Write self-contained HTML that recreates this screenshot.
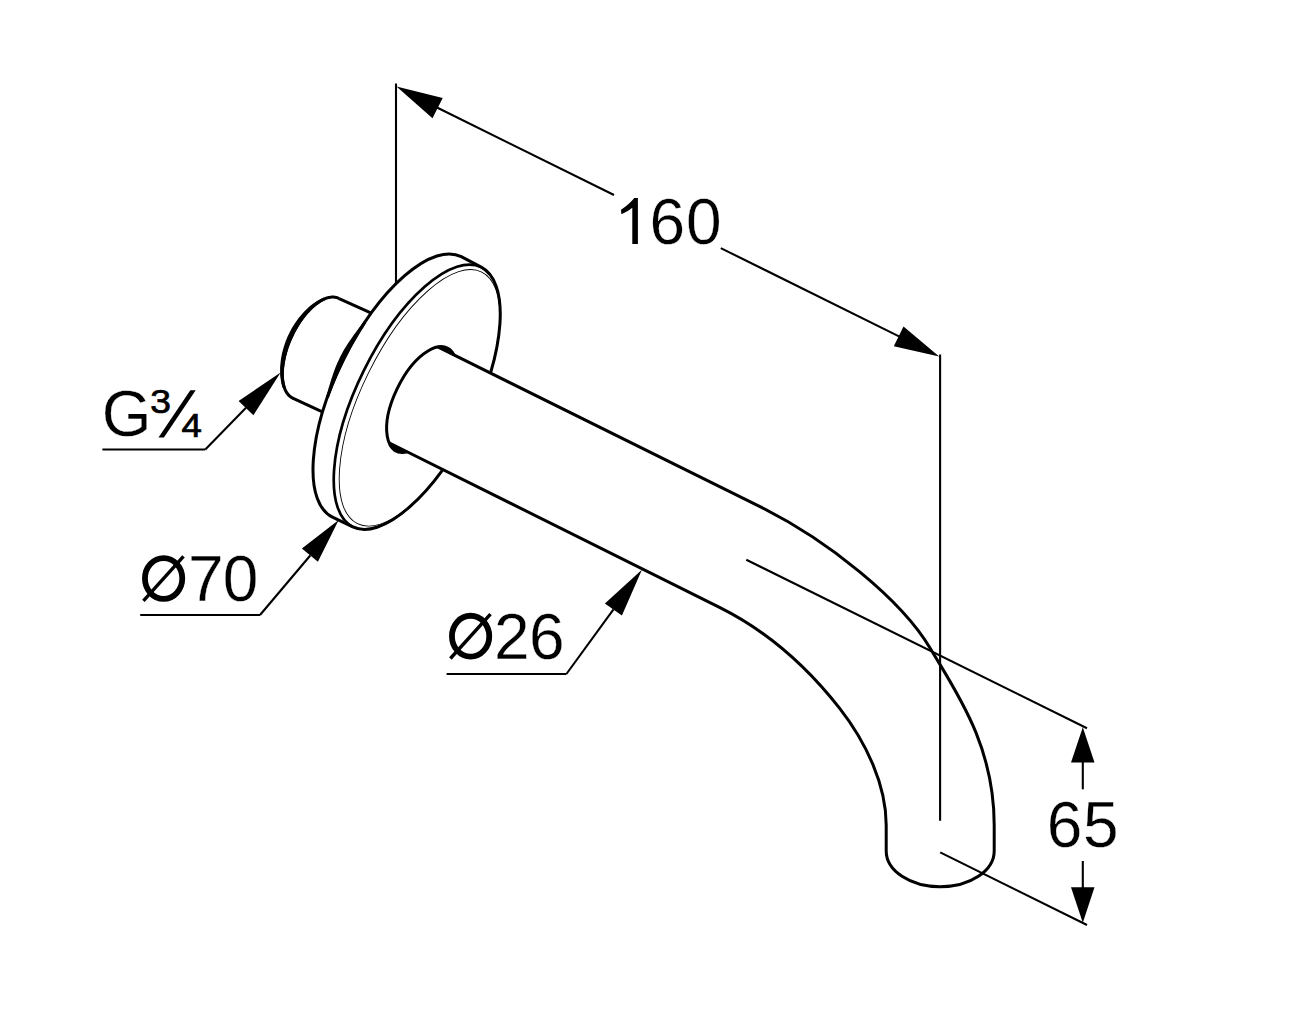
<!DOCTYPE html>
<html><head><meta charset="utf-8"><style>
html,body{margin:0;padding:0;background:#fff;width:1297px;height:1021px;overflow:hidden}
svg{display:block;font-family:"Liberation Sans",sans-serif}
</style></head><body>
<svg width="1297" height="1021" viewBox="0 0 1297 1021">
<path d="M339.1 298.5 L338.9 298.4 L338.8 298.4 L338.6 298.3 L338.5 298.2 L338.3 298.2 L338.2 298.1 L338.0 298.0 L337.8 298.0 L337.7 297.9 L337.5 297.9 L337.4 297.8 L337.2 297.7 L337.0 297.7 L336.9 297.6 L336.7 297.6 L336.5 297.6 L336.4 297.5 L336.2 297.5 L336.0 297.4 L335.9 297.4 L335.7 297.4 L335.5 297.3 L335.4 297.3 L335.2 297.3 L335.0 297.2 L334.8 297.2 L334.7 297.2 L334.5 297.2 L334.3 297.2 L334.1 297.1 L334.0 297.1 L333.8 297.1 L333.6 297.1 L333.4 297.1 L333.2 297.1 L333.1 297.1 L332.9 297.1 L332.7 297.1 L332.5 297.1 L332.3 297.1 L332.1 297.1 L332.0 297.1 L331.8 297.1 L331.6 297.1 L331.4 297.1 L331.2 297.2 L331.0 297.2 L330.8 297.2 L330.6 297.2 L330.5 297.2 L330.3 297.3 L330.1 297.3 L329.9 297.3 L329.7 297.4 L329.5 297.4 L329.3 297.4 L329.1 297.5 L328.9 297.5 L328.7 297.5 L328.5 297.6 L328.3 297.6 L328.1 297.7 L327.9 297.7 L327.7 297.8 L327.5 297.8 L327.3 297.9 L327.1 298.0 L326.9 298.0 L326.7 298.1 L326.5 298.1 L326.3 298.2 L326.1 298.3 L325.9 298.3 L325.7 298.4 L325.5 298.5 L325.3 298.6 L325.1 298.6 L324.9 298.7 L324.7 298.8 L324.5 298.9 L324.3 299.0 L324.1 299.1 L323.9 299.2 L323.7 299.2 L323.5 299.3 L323.3 299.4 L323.1 299.5 L322.9 299.6 L322.7 299.7 L322.5 299.8 L322.3 299.9 L322.1 300.0 L321.9 300.2 L321.6 300.3 L321.4 300.4 L321.2 300.5 L321.0 300.6 L320.8 300.7 L320.6 300.9 L320.4 301.0 L320.2 301.1 L320.0 301.2 L319.8 301.3 L319.6 301.5 L319.3 301.6 L319.1 301.7 L318.9 301.9 L318.7 302.0 L318.5 302.2 L318.3 302.3 L318.1 302.4 L317.9 302.6 L317.7 302.7 L317.5 302.9 L317.2 303.0 L317.0 303.2 L316.8 303.3 L316.6 303.5 L316.4 303.6 L316.2 303.8 L316.0 304.0 L315.8 304.1 L315.6 304.3 L315.3 304.4 L315.1 304.6 L314.9 304.8 L314.7 305.0 L314.5 305.1 L314.3 305.3 L314.1 305.5 L313.9 305.7 L313.7 305.8 L313.4 306.0 L313.2 306.2 L313.0 306.4 L312.8 306.6 L312.6 306.8 L312.4 306.9 L312.2 307.1 L312.0 307.3 L311.8 307.5 L311.6 307.7 L311.3 307.9 L311.1 308.1 L310.9 308.3 L310.7 308.5 L310.5 308.7 L310.3 308.9 L310.1 309.1 L309.9 309.3 L309.7 309.5 L309.5 309.8 L309.3 310.0 L309.1 310.2 L308.9 310.4 L308.6 310.6 L308.4 310.8 L308.2 311.1 L308.0 311.3 L307.8 311.5 L307.6 311.7 L307.4 311.9 L307.2 312.2 L307.0 312.4 L306.8 312.6 L306.6 312.9 L306.4 313.1 L306.2 313.3 L306.0 313.6 L305.8 313.8 L305.6 314.0 L305.4 314.3 L305.2 314.5 L305.0 314.8 L304.8 315.0 L304.6 315.3 L304.4 315.5 L304.2 315.8 L304.0 316.0 L303.8 316.3 L303.6 316.5 L303.4 316.8 L303.2 317.0 L303.0 317.3 L302.8 317.5 L302.6 317.8 L302.4 318.0 L302.2 318.3 L302.1 318.6 L301.9 318.8 L301.7 319.1 L301.5 319.4 L301.3 319.6 L301.1 319.9 L300.9 320.2 L300.7 320.4 L300.5 320.7 L300.3 321.0 L300.2 321.2 L300.0 321.5 L299.8 321.8 L299.6 322.1 L299.4 322.3 L299.2 322.6 L299.0 322.9 L298.9 323.2 L298.7 323.5 L298.5 323.7 L298.3 324.0 L298.1 324.3 L298.0 324.6 L297.8 324.9 L297.6 325.2 L297.4 325.5 L297.3 325.7 L297.1 326.0 L296.9 326.3 L296.7 326.6 L296.6 326.9 L296.4 327.2 L296.2 327.5 L296.0 327.8 L295.9 328.1 L295.7 328.4 L295.5 328.7 L295.4 329.0 L295.2 329.3 L295.0 329.6 L294.9 329.9 L294.7 330.2 L294.5 330.5 L294.4 330.8 L294.2 331.1 L294.1 331.4 L293.9 331.7 L293.7 332.0 L293.6 332.3 L293.4 332.6 L293.3 332.9 L293.1 333.2 L293.0 333.5 L292.8 333.8 L292.7 334.1 L292.5 334.4 L292.4 334.8 L292.2 335.1 L292.1 335.4 L291.9 335.7 L291.8 336.0 L291.6 336.3 L291.5 336.6 L291.3 336.9 L291.2 337.3 L291.0 337.6 L290.9 337.9 L290.8 338.2 L290.6 338.5 L290.5 338.8 L290.3 339.1 L290.2 339.5 L290.1 339.8 L289.9 340.1 L289.8 340.4 L289.7 340.7 L289.5 341.1 L289.4 341.4 L289.3 341.7 L289.1 342.0 L289.0 342.3 L288.9 342.6 L288.8 343.0 L288.6 343.3 L288.5 343.6 L288.4 343.9 L288.3 344.2 L288.2 344.6 L288.0 344.9 L287.9 345.2 L287.8 345.5 L287.7 345.9 L287.6 346.2 L287.5 346.5 L287.4 346.8 L287.2 347.1 L287.1 347.5 L287.0 347.8 L286.9 348.1 L286.8 348.4 L286.7 348.8 L286.6 349.1 L286.5 349.4 L286.4 349.7 L286.3 350.0 L286.2 350.4 L286.1 350.7 L286.0 351.0 L285.9 351.3 L285.8 351.6 L285.7 352.0 L285.6 352.3 L285.5 352.6 L285.4 352.9 L285.4 353.2 L285.3 353.6 L285.2 353.9 L285.1 354.2 L285.0 354.5 L284.9 354.8 L284.8 355.2 L284.8 355.5 L284.7 355.8 L284.6 356.1 L284.5 356.4 L284.5 356.8 L284.4 357.1 L284.3 357.4 L284.2 357.7 L284.2 358.0 L284.1 358.3 L284.0 358.7 L284.0 359.0 L283.9 359.3 L283.8 359.6 L283.8 359.9 L283.7 360.2 L283.7 360.5 L283.6 360.8 L283.5 361.2 L283.5 361.5 L283.4 361.8 L283.4 362.1 L283.3 362.4 L283.3 362.7 L283.2 363.0 L283.2 363.3 L283.1 363.6 L283.1 363.9 L283.0 364.2 L283.0 364.6 L283.0 364.9 L282.9 365.2 L282.9 365.5 L282.8 365.8 L282.8 366.1 L282.8 366.4 L282.7 366.7 L282.7 367.0 L282.7 367.3 L282.6 367.6 L282.6 367.9 L282.6 368.2 L282.5 368.5 L282.5 368.8 L282.5 369.1 L282.5 369.3 L282.5 369.6 L282.4 369.9 L282.4 370.2 L282.4 370.5 L282.4 370.8 L282.4 371.1 L282.4 371.4 L282.3 371.7 L282.3 372.0 L282.3 372.2 L282.3 372.5 L282.3 372.8 L282.3 373.1 L282.3 373.4 L282.3 373.6 L282.3 373.9 L282.3 374.2 L282.3 374.5 L282.3 374.8 L282.3 375.0 L282.3 375.3 L282.3 375.6 L282.3 375.8 L282.3 376.1 L282.3 376.4 L282.4 376.7 L282.4 376.9 L282.4 377.2 L282.4 377.5 L282.4 377.7 L282.4 378.0 L282.5 378.2 L282.5 378.5 L282.5 378.8 L282.5 379.0 L282.6 379.3 L282.6 379.5 L282.6 379.8 L282.6 380.0 L282.7 380.3 L282.7 380.5 L282.7 380.8 L282.8 381.0 L282.8 381.3 L282.8 381.5 L282.9 381.8 L282.9 382.0 L283.0 382.3 L283.0 382.5 L283.0 382.7 L283.1 383.0 L283.1 383.2 L283.2 383.5 L283.2 383.7 L283.3 383.9 L283.3 384.1 L283.4 384.4 L283.4 384.6 L283.5 384.8 L283.5 385.1 L283.6 385.3 L283.7 385.5 L283.7 385.7 L283.8 385.9 L283.8 386.2 L283.9 386.4 L284.0 386.6 L284.0 386.8 L284.1 387.0 L284.2 387.2 L284.3 387.4 L284.3 387.6 L284.4 387.8 L284.5 388.0 L284.5 388.2 L284.6 388.4 L284.7 388.6 L284.8 388.8 L284.9 389.0 L284.9 389.2 L285.0 389.4 L285.1 389.6 L285.2 389.8 L285.3 390.0 L285.4 390.2 L285.5 390.4 L285.5 390.5 L285.6 390.7 L285.7 390.9 L285.8 391.1 L285.9 391.3 L286.0 391.4 L286.1 391.6 L286.2 391.8 L286.3 391.9 L286.4 392.1 L286.5 392.3 L286.6 392.4 L286.7 392.6 L286.8 392.8 L286.9 392.9 L287.0 393.1 L287.1 393.2 L287.3 393.4 L287.4 393.5 L287.5 393.7 L287.6 393.8 L287.7 394.0 L287.8 394.1 L287.9 394.3 L288.1 394.4 L288.2 394.6 L288.3 394.7 L288.4 394.8 L288.5 395.0 L288.7 395.1 L288.8 395.2 L288.9 395.4 L289.0 395.5 L289.2 395.6 L289.3 395.7 L289.4 395.8 L289.5 396.0 L289.7 396.1 L289.8 396.2 L289.9 396.3 L290.1 396.4 L290.2 396.5 L290.4 396.6 L290.5 396.7 L290.6 396.8 L290.8 396.9 L290.9 397.0 L291.0 397.1 L291.2 397.2 L291.3 397.3 L291.5 397.4 L291.6 397.5 L291.8 397.6 L291.9 397.7 L292.1 397.8 L292.2 397.9 L292.4 397.9 L292.5 398.0 L292.7 398.1 L292.67 398.09 L378.00 437.70 L378.00 316.14 Z" fill="#fff" stroke="none"/>
<path d="M339.1 298.5 L338.9 298.4 L338.8 298.4 L338.6 298.3 L338.5 298.2 L338.3 298.2 L338.2 298.1 L338.0 298.0 L337.8 298.0 L337.7 297.9 L337.5 297.9 L337.4 297.8 L337.2 297.7 L337.0 297.7 L336.9 297.6 L336.7 297.6 L336.5 297.6 L336.4 297.5 L336.2 297.5 L336.0 297.4 L335.9 297.4 L335.7 297.4 L335.5 297.3 L335.4 297.3 L335.2 297.3 L335.0 297.2 L334.8 297.2 L334.7 297.2 L334.5 297.2 L334.3 297.2 L334.1 297.1 L334.0 297.1 L333.8 297.1 L333.6 297.1 L333.4 297.1 L333.2 297.1 L333.1 297.1 L332.9 297.1 L332.7 297.1 L332.5 297.1 L332.3 297.1 L332.1 297.1 L332.0 297.1 L331.8 297.1 L331.6 297.1 L331.4 297.1 L331.2 297.2 L331.0 297.2 L330.8 297.2 L330.6 297.2 L330.5 297.2 L330.3 297.3 L330.1 297.3 L329.9 297.3 L329.7 297.4 L329.5 297.4 L329.3 297.4 L329.1 297.5 L328.9 297.5 L328.7 297.5 L328.5 297.6 L328.3 297.6 L328.1 297.7 L327.9 297.7 L327.7 297.8 L327.5 297.8 L327.3 297.9 L327.1 298.0 L326.9 298.0 L326.7 298.1 L326.5 298.1 L326.3 298.2 L326.1 298.3 L325.9 298.3 L325.7 298.4 L325.5 298.5 L325.3 298.6 L325.1 298.6 L324.9 298.7 L324.7 298.8 L324.5 298.9 L324.3 299.0 L324.1 299.1 L323.9 299.2 L323.7 299.2 L323.5 299.3 L323.3 299.4 L323.1 299.5 L322.9 299.6 L322.7 299.7 L322.5 299.8 L322.3 299.9 L322.1 300.0 L321.9 300.2 L321.6 300.3 L321.4 300.4 L321.2 300.5 L321.0 300.6 L320.8 300.7 L320.6 300.9 L320.4 301.0 L320.2 301.1 L320.0 301.2 L319.8 301.3 L319.6 301.5 L319.3 301.6 L319.1 301.7 L318.9 301.9 L318.7 302.0 L318.5 302.2 L318.3 302.3 L318.1 302.4 L317.9 302.6 L317.7 302.7 L317.5 302.9 L317.2 303.0 L317.0 303.2 L316.8 303.3 L316.6 303.5 L316.4 303.6 L316.2 303.8 L316.0 304.0 L315.8 304.1 L315.6 304.3 L315.3 304.4 L315.1 304.6 L314.9 304.8 L314.7 305.0 L314.5 305.1 L314.3 305.3 L314.1 305.5 L313.9 305.7 L313.7 305.8 L313.4 306.0 L313.2 306.2 L313.0 306.4 L312.8 306.6 L312.6 306.8 L312.4 306.9 L312.2 307.1 L312.0 307.3 L311.8 307.5 L311.6 307.7 L311.3 307.9 L311.1 308.1 L310.9 308.3 L310.7 308.5 L310.5 308.7 L310.3 308.9 L310.1 309.1 L309.9 309.3 L309.7 309.5 L309.5 309.8 L309.3 310.0 L309.1 310.2 L308.9 310.4 L308.6 310.6 L308.4 310.8 L308.2 311.1 L308.0 311.3 L307.8 311.5 L307.6 311.7 L307.4 311.9 L307.2 312.2 L307.0 312.4 L306.8 312.6 L306.6 312.9 L306.4 313.1 L306.2 313.3 L306.0 313.6 L305.8 313.8 L305.6 314.0 L305.4 314.3 L305.2 314.5 L305.0 314.8 L304.8 315.0 L304.6 315.3 L304.4 315.5 L304.2 315.8 L304.0 316.0 L303.8 316.3 L303.6 316.5 L303.4 316.8 L303.2 317.0 L303.0 317.3 L302.8 317.5 L302.6 317.8 L302.4 318.0 L302.2 318.3 L302.1 318.6 L301.9 318.8 L301.7 319.1 L301.5 319.4 L301.3 319.6 L301.1 319.9 L300.9 320.2 L300.7 320.4 L300.5 320.7 L300.3 321.0 L300.2 321.2 L300.0 321.5 L299.8 321.8 L299.6 322.1 L299.4 322.3 L299.2 322.6 L299.0 322.9 L298.9 323.2 L298.7 323.5 L298.5 323.7 L298.3 324.0 L298.1 324.3 L298.0 324.6 L297.8 324.9 L297.6 325.2 L297.4 325.5 L297.3 325.7 L297.1 326.0 L296.9 326.3 L296.7 326.6 L296.6 326.9 L296.4 327.2 L296.2 327.5 L296.0 327.8 L295.9 328.1 L295.7 328.4 L295.5 328.7 L295.4 329.0 L295.2 329.3 L295.0 329.6 L294.9 329.9 L294.7 330.2 L294.5 330.5 L294.4 330.8 L294.2 331.1 L294.1 331.4 L293.9 331.7 L293.7 332.0 L293.6 332.3 L293.4 332.6 L293.3 332.9 L293.1 333.2 L293.0 333.5 L292.8 333.8 L292.7 334.1 L292.5 334.4 L292.4 334.8 L292.2 335.1 L292.1 335.4 L291.9 335.7 L291.8 336.0 L291.6 336.3 L291.5 336.6 L291.3 336.9 L291.2 337.3 L291.0 337.6 L290.9 337.9 L290.8 338.2 L290.6 338.5 L290.5 338.8 L290.3 339.1 L290.2 339.5 L290.1 339.8 L289.9 340.1 L289.8 340.4 L289.7 340.7 L289.5 341.1 L289.4 341.4 L289.3 341.7 L289.1 342.0 L289.0 342.3 L288.9 342.6 L288.8 343.0 L288.6 343.3 L288.5 343.6 L288.4 343.9 L288.3 344.2 L288.2 344.6 L288.0 344.9 L287.9 345.2 L287.8 345.5 L287.7 345.9 L287.6 346.2 L287.5 346.5 L287.4 346.8 L287.2 347.1 L287.1 347.5 L287.0 347.8 L286.9 348.1 L286.8 348.4 L286.7 348.8 L286.6 349.1 L286.5 349.4 L286.4 349.7 L286.3 350.0 L286.2 350.4 L286.1 350.7 L286.0 351.0 L285.9 351.3 L285.8 351.6 L285.7 352.0 L285.6 352.3 L285.5 352.6 L285.4 352.9 L285.4 353.2 L285.3 353.6 L285.2 353.9 L285.1 354.2 L285.0 354.5 L284.9 354.8 L284.8 355.2 L284.8 355.5 L284.7 355.8 L284.6 356.1 L284.5 356.4 L284.5 356.8 L284.4 357.1 L284.3 357.4 L284.2 357.7 L284.2 358.0 L284.1 358.3 L284.0 358.7 L284.0 359.0 L283.9 359.3 L283.8 359.6 L283.8 359.9 L283.7 360.2 L283.7 360.5 L283.6 360.8 L283.5 361.2 L283.5 361.5 L283.4 361.8 L283.4 362.1 L283.3 362.4 L283.3 362.7 L283.2 363.0 L283.2 363.3 L283.1 363.6 L283.1 363.9 L283.0 364.2 L283.0 364.6 L283.0 364.9 L282.9 365.2 L282.9 365.5 L282.8 365.8 L282.8 366.1 L282.8 366.4 L282.7 366.7 L282.7 367.0 L282.7 367.3 L282.6 367.6 L282.6 367.9 L282.6 368.2 L282.5 368.5 L282.5 368.8 L282.5 369.1 L282.5 369.3 L282.5 369.6 L282.4 369.9 L282.4 370.2 L282.4 370.5 L282.4 370.8 L282.4 371.1 L282.4 371.4 L282.3 371.7 L282.3 372.0 L282.3 372.2 L282.3 372.5 L282.3 372.8 L282.3 373.1 L282.3 373.4 L282.3 373.6 L282.3 373.9 L282.3 374.2 L282.3 374.5 L282.3 374.8 L282.3 375.0 L282.3 375.3 L282.3 375.6 L282.3 375.8 L282.3 376.1 L282.3 376.4 L282.4 376.7 L282.4 376.9 L282.4 377.2 L282.4 377.5 L282.4 377.7 L282.4 378.0 L282.5 378.2 L282.5 378.5 L282.5 378.8 L282.5 379.0 L282.6 379.3 L282.6 379.5 L282.6 379.8 L282.6 380.0 L282.7 380.3 L282.7 380.5 L282.7 380.8 L282.8 381.0 L282.8 381.3 L282.8 381.5 L282.9 381.8 L282.9 382.0 L283.0 382.3 L283.0 382.5 L283.0 382.7 L283.1 383.0 L283.1 383.2 L283.2 383.5 L283.2 383.7 L283.3 383.9 L283.3 384.1 L283.4 384.4 L283.4 384.6 L283.5 384.8 L283.5 385.1 L283.6 385.3 L283.7 385.5 L283.7 385.7 L283.8 385.9 L283.8 386.2 L283.9 386.4 L284.0 386.6 L284.0 386.8 L284.1 387.0 L284.2 387.2 L284.3 387.4 L284.3 387.6 L284.4 387.8 L284.5 388.0 L284.5 388.2 L284.6 388.4 L284.7 388.6 L284.8 388.8 L284.9 389.0 L284.9 389.2 L285.0 389.4 L285.1 389.6 L285.2 389.8 L285.3 390.0 L285.4 390.2 L285.5 390.4 L285.5 390.5 L285.6 390.7 L285.7 390.9 L285.8 391.1 L285.9 391.3 L286.0 391.4 L286.1 391.6 L286.2 391.8 L286.3 391.9 L286.4 392.1 L286.5 392.3 L286.6 392.4 L286.7 392.6 L286.8 392.8 L286.9 392.9 L287.0 393.1 L287.1 393.2 L287.3 393.4 L287.4 393.5 L287.5 393.7 L287.6 393.8 L287.7 394.0 L287.8 394.1 L287.9 394.3 L288.1 394.4 L288.2 394.6 L288.3 394.7 L288.4 394.8 L288.5 395.0 L288.7 395.1 L288.8 395.2 L288.9 395.4 L289.0 395.5 L289.2 395.6 L289.3 395.7 L289.4 395.8 L289.5 396.0 L289.7 396.1 L289.8 396.2 L289.9 396.3 L290.1 396.4 L290.2 396.5 L290.4 396.6 L290.5 396.7 L290.6 396.8 L290.8 396.9 L290.9 397.0 L291.0 397.1 L291.2 397.2 L291.3 397.3 L291.5 397.4 L291.6 397.5 L291.8 397.6 L291.9 397.7 L292.1 397.8 L292.2 397.9 L292.4 397.9 L292.5 398.0 L292.7 398.1 L292.67 398.09" fill="none" stroke="#000" stroke-width="3.00" stroke-linejoin="round"/>
<path d="M339.09 298.51 L378.00 316.14 M292.67 398.09 L378.00 437.70" fill="none" stroke="#000" stroke-width="3.00"/>
<path d="M324.8 300.4 L323.1 301.2 L321.4 302.1 L319.7 303.2 L317.9 304.4 L316.1 305.7 L314.4 307.2 L312.6 308.8 L310.8 310.5 L309.1 312.4 L307.3 314.3 L305.6 316.4 L304.0 318.5 L302.3 320.8 L300.7 323.1 L299.2 325.5 L297.7 328.0 L296.2 330.5 L294.9 333.1 L293.6 335.7 L292.3 338.4 L291.1 341.1 L290.0 343.8 L289.0 346.6 L288.1 349.3 L287.3 352.1 L286.5 354.8 L285.8 357.5 L285.3 360.2 L284.8 362.9 L284.4 365.5 L284.1 368.0 L283.9 370.5 L283.8 372.9 L283.8 375.3 L283.9 377.5 L284.1 379.7 L284.4 381.8 L284.8 383.7 L285.2 385.6 L285.8 387.3 L285.9 387.5 L283.0 388.5 L283.0 388.3 L282.3 386.4 L281.7 384.4 L281.2 382.3 L280.8 380.1 L280.5 377.8 L280.2 375.4 L280.1 372.9 L280.1 370.3 L280.1 367.6 L280.3 364.9 L280.6 362.2 L280.9 359.3 L281.4 356.5 L282.0 353.6 L282.7 350.7 L283.5 347.8 L284.4 344.9 L285.4 342.0 L286.5 339.2 L287.7 336.3 L289.1 333.6 L290.5 330.8 L291.9 328.1 L293.5 325.5 L295.1 323.0 L296.9 320.5 L298.6 318.1 L300.4 315.9 L302.3 313.7 L304.2 311.6 L306.1 309.7 L308.1 307.8 L310.0 306.1 L312.0 304.5 L314.0 303.0 L316.0 301.7 L317.9 300.5 L319.9 299.4 L321.8 298.5 L323.7 297.6 Z" fill="#000"/>
<path d="M481.18 267.13 L461.26 256.59 A145.33 60.00 -63.700 0 0 332.48 517.17 L352.80 526.87 A144.87 59.71 -63.700 0 0 481.18 267.13 Z" fill="#fff" stroke="#000" stroke-width="3.00" stroke-linejoin="round"/>
<path d="M481.18 267.13 A144.87 59.71 -63.700 0 0 352.80 526.87" fill="none" stroke="#000" stroke-width="2.7"/>
<path d="M481.18 267.13 A144.87 59.71 -63.700 0 1 352.80 526.87" fill="none" stroke="#000" stroke-width="1.7"/>
<ellipse cx="419.61" cy="397.85" rx="56.88" ry="140.31" transform="rotate(26.300 419.61 397.85)" fill="none" stroke="#000" stroke-width="0.90"/>
<path d="M366.3 323.0 L365.2 324.6 L364.1 326.3 L363.1 327.9 L362.0 329.6 L360.9 331.3 L359.9 333.0 L358.8 334.7 L357.8 336.4 L356.8 338.2 L355.7 339.9 L354.7 341.7 L353.7 343.4 L352.7 345.2 L351.7 347.0 L350.8 348.8 L349.8 350.6 L348.8 352.4 L347.9 354.2 L346.9 356.0 L346.0 357.8 L345.1 359.6 L344.2 361.5 L343.3 363.3 L342.4 365.2 L341.5 367.0 L340.6 368.9 L339.8 370.7 L339.0 372.6 L338.1 374.4 L337.3 376.3 L336.5 378.2 L335.7 380.0 L334.9 381.9 L334.2 383.8 L333.4 385.6 L332.7 387.5 L331.9 389.4 L331.2 391.3 L330.5 393.1 L329.8 395.0 L329.1 396.9 L328.6 398.3 L325.8 397.3 L326.3 395.8 L326.9 393.9 L327.5 392.0 L328.1 390.1 L328.6 388.1 L329.2 386.2 L329.8 384.2 L330.4 382.2 L331.0 380.3 L331.6 378.3 L332.3 376.4 L332.9 374.4 L333.6 372.4 L334.3 370.5 L335.1 368.5 L335.8 366.6 L336.6 364.7 L337.4 362.8 L338.3 360.9 L339.2 359.0 L340.1 357.1 L341.0 355.3 L342.0 353.4 L343.0 351.6 L344.0 349.8 L345.1 348.0 L346.2 346.3 L347.3 344.5 L348.4 342.8 L349.6 341.1 L350.7 339.4 L351.9 337.7 L353.1 336.0 L354.3 334.3 L355.5 332.7 L356.7 331.0 L357.9 329.4 L359.1 327.8 L360.3 326.2 L361.5 324.6 L362.7 322.9 L363.8 321.3 Z" fill="#000"/>
<path d="M453.94 354.97 L760.00 506.66 C827.0 539.9 901.3 599.1 930.5 648.7 C955.7 691.5 994.2 744.7 994.2 825.0 L994.2 851.0 A54.00 35.80 0 0 1 886.2 851.0 L886.2 825.0 C886.2 785.2 866.2 742.2 839.5 708.1 C805.5 664.8 766.0 630.5 720.0 607.56 L407.40 451.88 A57.60 26.90 -63.700 1 1 453.94 354.97 Z" fill="#fff" stroke="none"/>
<path d="M437.76 346.96 L760.00 506.66 C827.0 539.9 901.3 599.1 930.5 648.7 C955.7 691.5 994.2 744.7 994.2 825.0 L994.2 851.0 A54.00 35.80 0 0 1 886.2 851.0 L886.2 825.0 C886.2 785.2 866.2 742.2 839.5 708.1 C805.5 664.8 766.0 630.5 720.0 607.56 L388.98 442.72" fill="none" stroke="#000" stroke-width="3.00" stroke-linejoin="round"/>
<path d="M453.94 354.97 A57.60 26.90 -63.700 0 0 437.76 346.96 Z" fill="#000"/>
<path d="M388.98 442.72 A57.60 26.90 -63.700 0 0 407.40 451.88 Z" fill="#000"/>
<path d="M453.94 354.97 A57.60 26.90 -63.700 1 0 407.40 451.88" fill="none" stroke="#000" stroke-width="3.00"/>
<line x1="396.00" y1="83.50" x2="396.00" y2="284.00" stroke="#000" stroke-width="2.10"/>
<polygon points="396.50,86.50 442.70,98.10 432.50,118.20" fill="#000"/>
<line x1="437.00" y1="107.50" x2="614.00" y2="195.00" stroke="#000" stroke-width="2.10"/>
<line x1="720.80" y1="248.10" x2="899.00" y2="336.40" stroke="#000" stroke-width="2.10"/>
<polygon points="939.20,356.40 903.50,326.50 893.80,346.30" fill="#000"/>
<line x1="940.10" y1="354.50" x2="940.10" y2="820.80" stroke="#000" stroke-width="2.10"/>
<line x1="746.30" y1="559.75" x2="1087.00" y2="728.30" stroke="#000" stroke-width="2.10"/>
<line x1="940.20" y1="852.40" x2="1087.00" y2="925.00" stroke="#000" stroke-width="2.10"/>
<polygon points="1082.80,727.20 1071.00,762.60 1094.50,762.60" fill="#000"/>
<line x1="1082.80" y1="760.00" x2="1082.80" y2="789.30" stroke="#000" stroke-width="2.10"/>
<line x1="1082.80" y1="861.00" x2="1082.80" y2="889.00" stroke="#000" stroke-width="2.10"/>
<polygon points="1082.80,922.80 1071.00,887.30 1094.50,887.30" fill="#000"/>
<line x1="102.40" y1="449.50" x2="205.30" y2="449.50" stroke="#000" stroke-width="2.10"/>
<line x1="205.30" y1="449.50" x2="246.00" y2="407.75" stroke="#000" stroke-width="2.10"/>
<polygon points="280.60,372.50 238.60,401.00 253.40,415.30" fill="#000"/>
<line x1="140.20" y1="615.00" x2="260.00" y2="615.00" stroke="#000" stroke-width="2.10"/>
<line x1="260.00" y1="615.00" x2="310.25" y2="555.55" stroke="#000" stroke-width="2.10"/>
<polygon points="338.70,520.10 301.90,548.60 317.90,561.70" fill="#000"/>
<line x1="446.60" y1="674.00" x2="566.40" y2="674.00" stroke="#000" stroke-width="2.10"/>
<line x1="566.40" y1="674.00" x2="613.50" y2="609.40" stroke="#000" stroke-width="2.10"/>
<polygon points="641.90,569.80 604.90,603.40 621.90,615.60" fill="#000"/>
<text x="649.6" y="244.2" font-family="Liberation Sans, sans-serif" font-size="64.0" fill="#000" stroke="#fff" stroke-width="0.35">6</text>
<text x="686.1" y="244.2" font-family="Liberation Sans, sans-serif" font-size="64.0" fill="#000" stroke="#fff" stroke-width="0.35">0</text>
<path d="M637.9 198 L634.3 198 C631.5 201.5 627 206 621 209.8 L621.4 214.2 C625.5 212.5 629.5 210.2 632.3 207.8 L632.3 243.9 L637.9 243.9 Z" fill="#000"/>
<text x="1046.8" y="847.0" font-family="Liberation Sans, sans-serif" font-size="64.0" fill="#000" stroke="#fff" stroke-width="0.35">6</text>
<text x="1082.9" y="847.0" font-family="Liberation Sans, sans-serif" font-size="64.0" fill="#000" stroke="#fff" stroke-width="0.35">5</text>
<text x="188.1" y="600.8" font-family="Liberation Sans, sans-serif" font-size="64.0" fill="#000" stroke="#fff" stroke-width="0.35">7</text>
<text x="222.7" y="600.8" font-family="Liberation Sans, sans-serif" font-size="64.0" fill="#000" stroke="#fff" stroke-width="0.35">0</text>
<ellipse cx="163.60" cy="578.50" rx="18.65" ry="20.45" fill="none" stroke="#000" stroke-width="5.8"/>
<line x1="143.40" y1="600.80" x2="183.50" y2="556.40" stroke="#000" stroke-width="3.4"/>
<text x="494.1" y="658.8" font-family="Liberation Sans, sans-serif" font-size="64.0" fill="#000" stroke="#fff" stroke-width="0.35">2</text>
<text x="529.0" y="658.8" font-family="Liberation Sans, sans-serif" font-size="64.0" fill="#000" stroke="#fff" stroke-width="0.35">6</text>
<ellipse cx="470.60" cy="636.20" rx="18.65" ry="20.45" fill="none" stroke="#000" stroke-width="5.8"/>
<line x1="450.40" y1="658.50" x2="490.50" y2="614.10" stroke="#000" stroke-width="3.4"/>
<text x="101.8" y="436.2" font-family="Liberation Sans, sans-serif" font-size="64.0" fill="#000" stroke="#fff" stroke-width="0.35">G</text>
<text transform="translate(150.2 412.8) scale(1.13 1)" x="0" y="0" font-family="Liberation Sans, sans-serif" font-size="33" fill="#000" stroke="#000" stroke-width="0.7">3</text>
<text transform="translate(181.5 436.6) scale(1.11 1)" x="0" y="0" font-family="Liberation Sans, sans-serif" font-size="33" fill="#000" stroke="#000" stroke-width="0.7">4</text>
<polygon points="158.5,437.6 163.9,437.6 195.7,390.2 190.3,390.2" fill="#000"/>
</svg>
</body></html>
